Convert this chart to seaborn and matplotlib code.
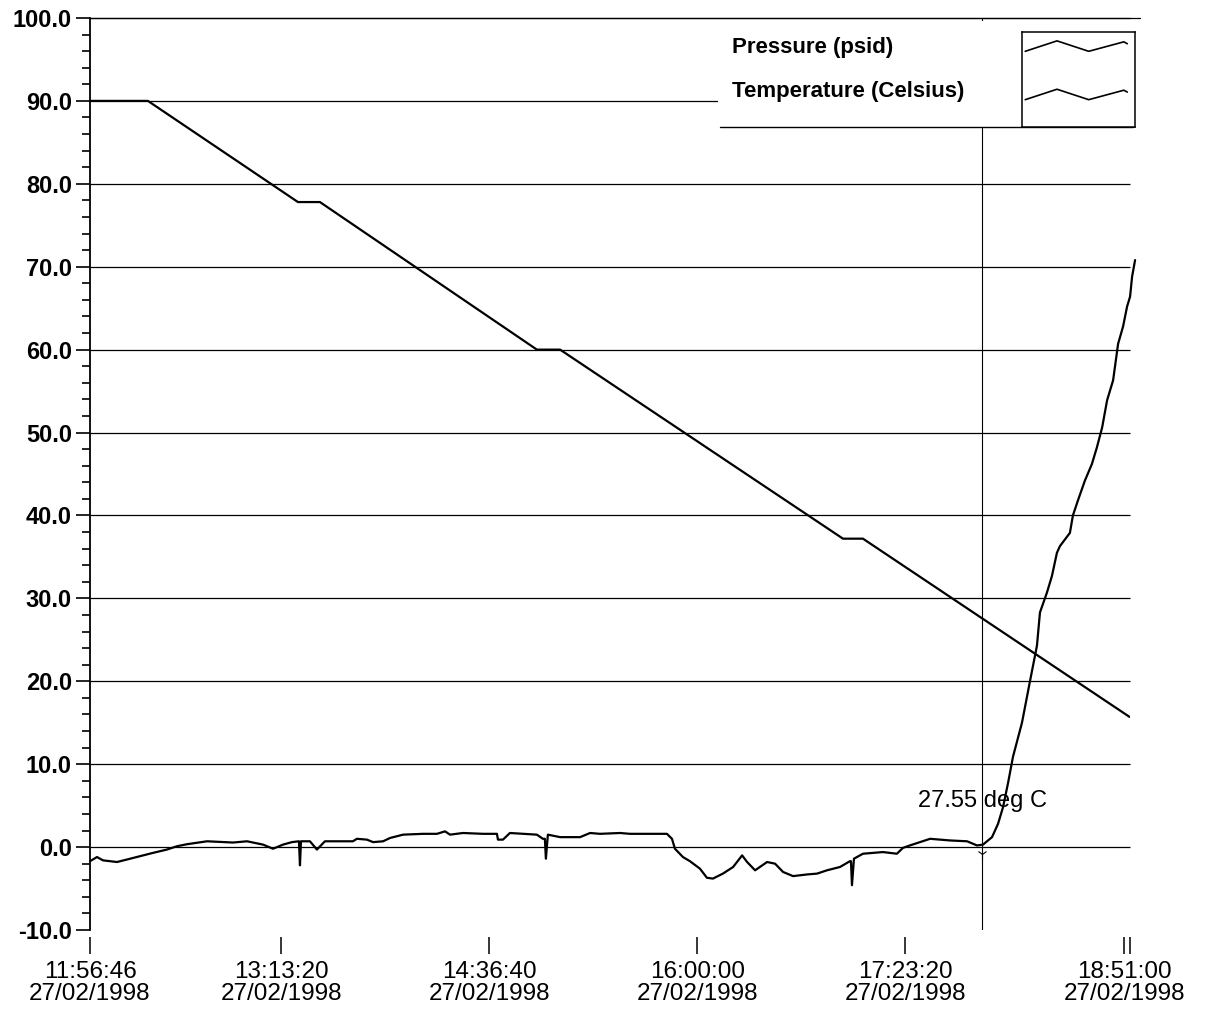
"""Pressure / temperature log, 27/02/1998."""
import matplotlib
matplotlib.use("Agg")
import matplotlib.pyplot as plt
import matplotlib.dates as mdates
from matplotlib.patches import Rectangle
from matplotlib.ticker import FixedLocator, MultipleLocator, FormatStrFormatter
import pandas as pd
import seaborn as sns

DAY = "1998-02-27"
START = "11:56:46"
X_END = "18:53:20"

# minutes after START
pressure_min = [0.0, 23.2, 83.3, 92.1, 179.0, 188.3, 301.6, 309.6, 416.4]
pressure_val = [90.0, 90.0, 77.8, 77.8, 60.0, 60.0, 37.2, 37.2, 15.7]

temp_min = [
    0.0, 2.8, 5.2, 10.8, 14.8, 20.0, 25.2, 30.8, 34.8, 38.9,
    46.9, 57.3, 62.9, 69.3, 73.3, 77.3, 80.9, 83.7, 84.1, 84.5,
    88.1, 90.9, 94.1, 105.3, 106.9, 110.9, 113.4, 117.4, 120.2, 125.4,
    133.4, 139.0, 142.2, 144.2, 149.4, 157.4, 163.0, 163.4, 165.4, 168.2,
    179.0, 181.4, 182.2, 182.6, 183.4, 188.3, 196.3, 200.3, 204.3, 212.3,
    216.3, 231.1, 233.1, 234.3, 237.5, 240.3, 244.3, 247.1, 249.5, 253.5,
    257.6, 261.2, 263.2, 266.4, 271.2, 274.4, 277.6, 281.6, 287.2, 291.2,
    295.2, 300.4, 304.4, 304.8, 305.2, 306.0, 309.6, 317.6, 323.2, 325.6,
    328.4, 336.5, 344.5, 351.3, 355.3, 357.7, 361.3, 363.7, 365.7, 367.7,
    369.7, 373.3, 376.5, 379.3, 380.5, 383.3, 385.3, 387.3, 388.5, 392.5,
    393.7, 395.7, 398.5, 401.3, 403.3, 405.4, 407.4, 409.8, 411.8, 413.8,
    415.4, 416.6, 417.4, 418.6,
]
temp_val = [
    -1.7, -1.2, -1.6, -1.8, -1.5, -1.1, -0.7, -0.3, 0.1, 0.35,
    0.7, 0.55, 0.7, 0.3, -0.2, 0.3, 0.6, 0.7, -2.2, 0.7,
    0.7, -0.3, 0.7, 0.7, 1.0, 0.9, 0.6, 0.7, 1.1, 1.5,
    1.6, 1.6, 1.9, 1.5, 1.7, 1.6, 1.6, 0.9, 0.9, 1.7,
    1.5, 1.0, 1.0, -1.4, 1.5, 1.2, 1.2, 1.7, 1.6, 1.7,
    1.6, 1.6, 1.0, -0.2, -1.2, -1.7, -2.6, -3.7, -3.8, -3.2,
    -2.4, -1.0, -1.8, -2.8, -1.8, -2.0, -3.0, -3.5, -3.3, -3.2,
    -2.8, -2.4, -1.7, -1.7, -4.6, -1.4, -0.8, -0.6, -0.8, -0.1,
    0.2, 1.0, 0.8, 0.7, 0.2, 0.3, 1.2, 2.8, 4.8, 7.7,
    10.9, 15.0, 20.0, 24.3, 28.3, 30.7, 32.7, 35.5, 36.3, 37.9,
    40.0, 41.8, 44.2, 46.2, 48.2, 50.6, 53.9, 56.3, 60.7, 62.8,
    65.2, 66.4, 68.8, 70.8,
]

tick_times = ["11:56:46", "13:13:20", "14:36:40", "16:00:00", "17:23:20", "18:51:00"]
grid_levels = [0, 10, 20, 30, 40, 50, 60, 70, 80, 90, 100]
legend_labels = ["Pressure (psid)", "Temperature (Celsius)"]
cursor_time = "17:54:04"
cursor_label = "27.55 deg C"
cursor_label_y = 5.5
cursor_mark_y = -0.8

# zig-zag legend glyph (legend box coordinates)
glyph_x = [0.03, 0.31, 0.59, 0.90, 0.93]
glyph_y = [0.0, 0.11, 0.0, 0.10, 0.08]
glyph_rows = [0.795, 0.285]

sns.set_style("ticks")
plt.rcParams["font.family"] = ["Liberation Sans", "DejaVu Sans"]
plt.rcParams["text.color"] = "black"
plt.rcParams["axes.labelcolor"] = "black"
plt.rcParams["xtick.color"] = "black"
plt.rcParams["ytick.color"] = "black"

start = pd.Timestamp(f"{DAY} {START}")
pressure = pd.DataFrame({
    "time": start + pd.to_timedelta(pressure_min, unit="min"),
    "value": pressure_val,
})
temperature = pd.DataFrame({
    "time": start + pd.to_timedelta(temp_min, unit="min"),
    "value": temp_val,
})

fig = plt.figure(figsize=(12.12, 10.11), dpi=100)
ax = fig.add_axes([90 / 1212, 81 / 1011, 1040 / 1212, 912 / 1011])

ax.hlines(grid_levels, 0, 1, transform=ax.get_yaxis_transform(),
          color="black", lw=0.9, zorder=1, clip_on=False)

sns.lineplot(data=pressure, x="time", y="value", color="black", lw=1.6,
             ax=ax, zorder=2)
sns.lineplot(data=temperature, x="time", y="value", color="black", lw=1.6,
             ax=ax, zorder=2, clip_on=False)

cursor = pd.Timestamp(f"{DAY} {cursor_time}")
ax.axvline(cursor, color="black", lw=0.8, zorder=1.5)
ax.plot([cursor], [cursor_mark_y], marker="1", ms=8, mew=0.8, color="black", zorder=3)
ax.text(cursor, cursor_label_y, cursor_label, ha="center", va="center",
        fontsize=17, color="black", zorder=6)

ax.set_xlim(start, pd.Timestamp(f"{DAY} {X_END}"))
ax.set_ylim(-10, 100)
ax.set_xlabel("")
ax.set_ylabel("")

# axes
ax.xaxis.set_major_locator(FixedLocator(
    [mdates.date2num(pd.Timestamp(f"{DAY} {t}")) for t in tick_times]))
ax.xaxis.set_minor_locator(FixedLocator(
    [mdates.date2num(pd.Timestamp(f"{DAY} {X_END}"))]))
ax.xaxis.set_major_formatter(mdates.DateFormatter("%H:%M:%S\n%d/%m/%Y"))
ax.yaxis.set_major_locator(MultipleLocator(10))
ax.yaxis.set_minor_locator(MultipleLocator(2))
ax.yaxis.set_major_formatter(FormatStrFormatter("%.1f"))

for side in ("top", "right"):
    ax.spines[side].set_visible(False)
ax.spines["bottom"].set_position(("outward", 5))
ax.spines["bottom"].set_visible(False)
ax.spines["left"].set_linewidth(1.3)
ax.spines["left"].set_color("black")

ax.tick_params(axis="x", which="both", length=12, width=1.1, pad=5,
               labelsize=17.5, colors="black")
ax.tick_params(axis="y", which="major", length=10, width=1.2, pad=3,
               labelsize=17, colors="black")
ax.tick_params(axis="y", which="minor", length=6, width=1.2, colors="black")
plt.setp(ax.get_yticklabels(), fontweight="bold")
plt.setp(ax.get_xticklabels(), linespacing=1.05)

# legend block in the top right corner
ax.add_patch(Rectangle((0.604, 0.8808), 0.405, 0.116, transform=ax.transAxes,
                       facecolor="white", edgecolor="none", zorder=3, clip_on=False))
ax.plot([0.606, 1.003], [0.8808, 0.8808], transform=ax.transAxes,
        color="black", lw=1.0, zorder=4, clip_on=False)
ax.plot([0.0, 1.01], [1.0, 1.0], transform=ax.transAxes,
        color="black", lw=0.9, zorder=4, clip_on=False)
for label, ypos in zip(legend_labels, [0.968, 0.919]):
    ax.text(0.617, ypos, label, transform=ax.transAxes, fontsize=16,
            fontweight="bold", va="center", color="black", zorder=5)

box = ax.inset_axes([0.896, 0.8808, 0.109, 0.104])
box.set_xlim(0, 1)
box.set_ylim(0, 1)
box.set_xticks([])
box.set_yticks([])
for sp in box.spines.values():
    sp.set_linewidth(1.1)
    sp.set_color("black")
for row in glyph_rows:
    box.plot(glyph_x, [row + g for g in glyph_y], color="black", lw=1.2)

fig.savefig("out.png", dpi=100)
plt.close(fig)
